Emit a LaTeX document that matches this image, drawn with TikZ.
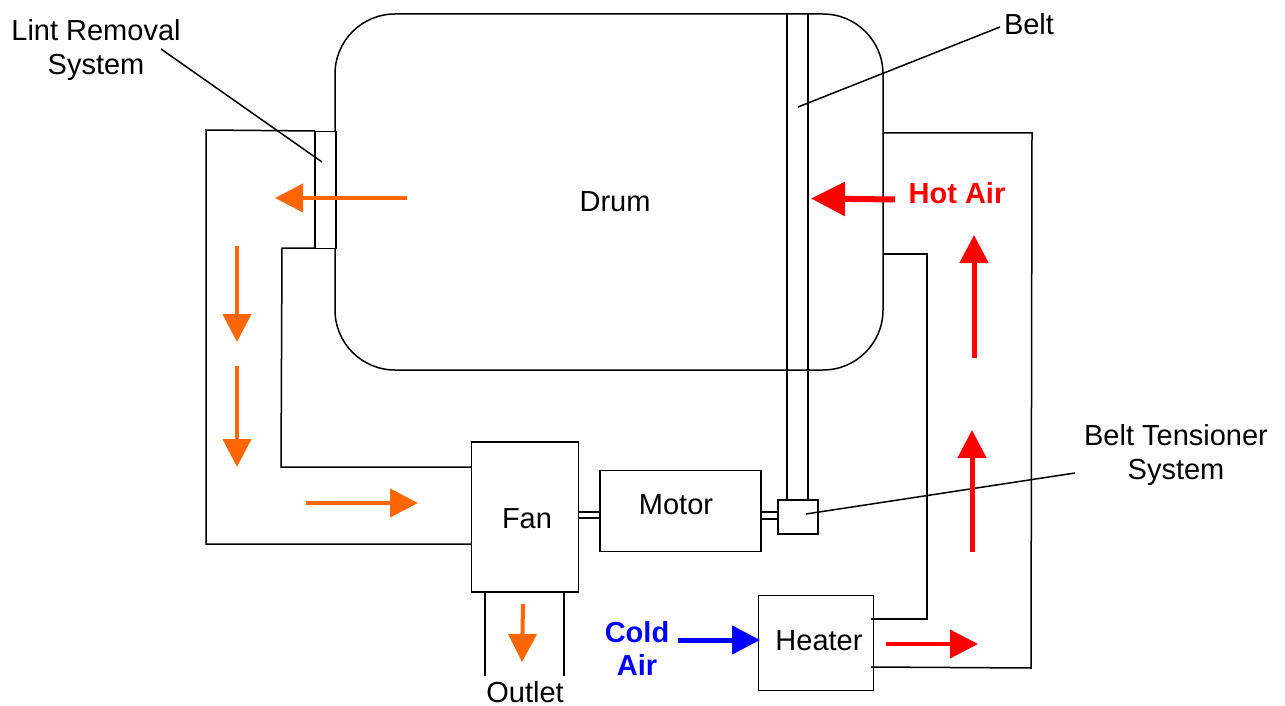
\documentclass[tikz,border=0pt]{standalone}
\usepackage{fontspec}
\setmainfont{Liberation Sans}
\usetikzlibrary{arrows.meta}
\definecolor{orangeair}{RGB}{255,102,0}
\begin{document}
\begin{tikzpicture}[x=1pt,y=-1pt,
  wire/.style={draw=black,line width=1.5pt},
  boxn/.style={draw=black,line width=1.5pt,fill=white,inner sep=0pt},
  lbl/.style={font=\fontsize{29}{34}\selectfont,align=center,inner sep=0pt},
  blbl/.style={font=\fontsize{29}{33}\selectfont\bfseries,align=center,inner sep=0pt},
  flow/.style={draw=#1,line width=4pt,-{Triangle[length=28pt,width=28pt,fill=#1]}},
  bigflow/.style={draw=#1,line width=6pt,-{Triangle[length=34pt,width=33pt,fill=#1]}}
]
\useasboundingbox (0,0) rectangle (1285,706);
% drum
\draw[wire,rounded corners=60pt] (335,14) rectangle (883,370);
% ducts
\coordinate (dl1) at (315,131);
\draw[wire] (dl1) -- (206,130) -- (206,544) -- (472,544);
\draw[wire] (315,248) -- (282,248) -- (281,467) -- (472,467);
% outlet
\draw[wire] (485,592) -- (485,676);
\draw[wire] (564,592) -- (564,676);
% shafts
\draw[wire] (578,512) -- (600,512);
\draw[wire] (578,518) -- (600,518);
\draw[wire] (761,512) -- (778,512);
\draw[wire] (761,519) -- (778,519);
% belt
\draw[wire] (787,14) -- (787,500);
\draw[wire] (808,14) -- (808,500);
% boxes
\node[boxn,minimum width=21pt,minimum height=117pt] (lint) at (325.5,190) {};
\node[boxn,minimum width=107pt,minimum height=150pt] (fan) at (525,517) {};
\node[boxn,minimum width=161pt,minimum height=81pt] (motor) at (680.5,511) {};
\node[boxn,minimum width=40pt,minimum height=34pt] (tens) at (798,517) {};
\node[boxn,minimum width=115pt,minimum height=95pt] (heater) at (816,643) {};
% ducts over the heater
\draw[wire] (883,133) -- (1032,133) -- (1031,668) -- (871,667);
\draw[wire] (883,254) -- (927,254) -- (927,619) -- (871,619);
% labels
\node[lbl] at (615,202) {Drum};
\node[lbl] at (527,519) {Fan};
\node[lbl] at (676,505) {Motor};
\node[lbl] at (819,641) {Heater};
\node[lbl] at (525,692) {Outlet};
\node[lbl] at (1029,24) {Belt};
\node[lbl] (lintl) at (96,50) {Lint Removal\\System};
\node[lbl] (tensl) at (1176,455) {Belt Tensioner\\System};
\node[blbl,text=red] at (957,193) {Hot Air};
\node[blbl,text=blue] at (637,648) {Cold\\Air};
% leaders
\coordinate (beltl) at (1000,27);
\coordinate (beltp) at (798,107);
\draw[wire] (beltl) -- (beltp);
\coordinate (lintp) at (322,162);
\coordinate (lints) at (161,49);
\draw[wire] (lints) -- (lintp);
\coordinate (tensf) at (1075,473);
\coordinate (tensp) at (806,514);
\draw[wire] (tensf) -- (tensp);
% arrows
\coordinate (a1) at (407,198); \coordinate (a2) at (275,198);
\draw[flow=orangeair] (a1) -- (a2);
\coordinate (a3) at (237,246); \coordinate (a4) at (237,342);
\draw[flow=orangeair] (a3) -- (a4);
\coordinate (a5) at (237,366); \coordinate (a6) at (237,467);
\draw[flow=orangeair] (a5) -- (a6);
\coordinate (a7) at (306,503); \coordinate (a8) at (418,503);
\draw[flow=orangeair] (a7) -- (a8);
\coordinate (a9) at (523,604); \coordinate (a10) at (522,662);
\draw[flow=orangeair] (a9) -- (a10);
\coordinate (r1) at (895,199.5); \coordinate (r2) at (811,198.5);
\draw[bigflow=red] (r1) -- (r2);
\coordinate (r3) at (974,358); \coordinate (r4) at (974,235);
\draw[flow=red,line width=5pt] (r3) -- (r4);
\coordinate (r5) at (972,552); \coordinate (r6) at (972,430);
\draw[flow=red,line width=5pt] (r5) -- (r6);
\coordinate (r7) at (886,644); \coordinate (r8) at (978,644);
\draw[flow=red] (r7) -- (r8);
\coordinate (b1) at (678,640); \coordinate (b2) at (760,640);
\draw[flow=blue,line width=5pt] (b1) -- (b2);
\end{tikzpicture}
\end{document}
